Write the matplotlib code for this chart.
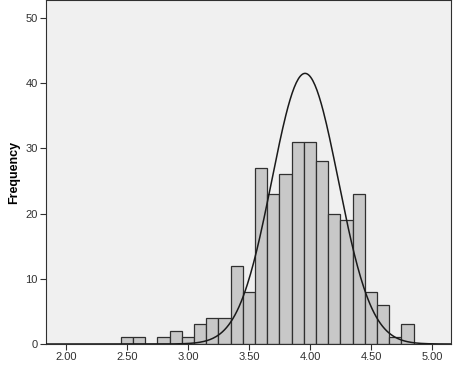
import matplotlib.pyplot as plt
import numpy as np

plt.rcParams['font.family'] = ['Liberation Sans', 'DejaVu Sans']

# bin centres (width 0.1) and counts
bin_centers = [2.5, 2.6, 2.7, 2.8, 2.9, 3.0, 3.1, 3.2, 3.3, 3.4, 3.5, 3.6,
               3.7, 3.8, 3.9, 4.0, 4.1, 4.2, 4.3, 4.4, 4.5, 4.6, 4.7, 4.8]
counts = [1, 1, 0, 1, 2, 1, 3, 4, 4, 12, 8, 27,
          23, 26, 31, 31, 28, 20, 19, 23, 8, 6, 1, 3]
bin_width = 0.1

# normal curve parameters
mean = 3.96
sd = 0.272

xticks = [2.0, 2.5, 3.0, 3.5, 4.0, 4.5, 5.0]
yticks = [0, 10, 20, 30, 40, 50]

fig = plt.figure(figsize=(4.53, 3.74), dpi=100)
ax = fig.add_axes([0.1015, 0.0802, 0.894, 0.9198])
ax.set_facecolor('#f0f0f0')

ax.bar(bin_centers, counts, width=bin_width, color='#c8c8c8',
       edgecolor='#303030', linewidth=0.9, zorder=2)

n = sum(counts)
xs = np.linspace(1.8, 5.2, 400)
ys = n * bin_width / (sd * np.sqrt(2 * np.pi)) * np.exp(-0.5 * ((xs - mean) / sd) ** 2)
ax.plot(xs, ys, color='#1a1a1a', linewidth=1.1, zorder=3)

ax.set_xlim(1.836, 5.156)
ax.set_ylim(0, 52.76)
ax.set_xticks(xticks)
ax.set_xticklabels([f'{t:.2f}' for t in xticks])
ax.set_yticks(yticks)
ax.tick_params(direction='out', length=4, width=0.8, labelsize=8, colors='#303030', pad=2)
for s in ax.spines.values():
    s.set_color('#303030')
    s.set_linewidth(0.8)
ax.set_ylabel('Frequency', fontsize=9, fontweight='bold', labelpad=4)

fig.savefig('out.png', dpi=100)
